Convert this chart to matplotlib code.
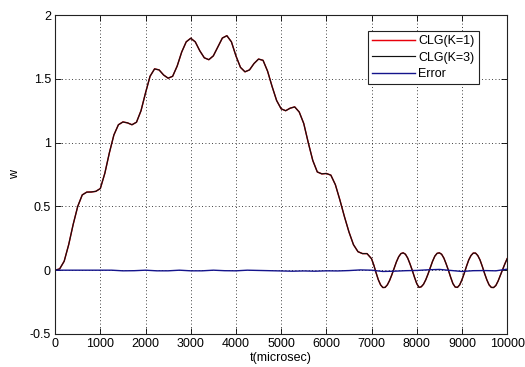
import numpy as np
import matplotlib.pyplot as plt

plt.rcParams["font.family"] = ["Liberation Sans", "DejaVu Sans"]

# sample times (microsec): coarse while stepping, finer over the ringing tail
t = np.concatenate([np.arange(0, 7000, 100), np.arange(7000, 10001, 50)])

# CLG response, K=3
w_k3 = [
    # 0 .. 6900, every 100
    0.0, 0.01, 0.07, 0.2, 0.36, 0.5, 0.59, 0.612, 0.613, 0.618,
    0.64, 0.76, 0.92, 1.06, 1.14, 1.162, 1.155, 1.14, 1.16, 1.25,
    1.39, 1.52, 1.578, 1.57, 1.53, 1.505, 1.52, 1.6, 1.71, 1.79,
    1.818, 1.79, 1.72, 1.665, 1.65, 1.68, 1.75, 1.82, 1.838, 1.79,
    1.68, 1.59, 1.555, 1.57, 1.62, 1.655, 1.645, 1.56, 1.44, 1.33,
    1.265, 1.25, 1.27, 1.28, 1.24, 1.15, 1.0, 0.86, 0.77, 0.755,
    0.758, 0.745, 0.67, 0.55, 0.42, 0.3, 0.2, 0.145, 0.13, 0.13,
    # 7000 .. 10000, every 50
    0.09, 0.04, -0.02, -0.075, -0.115, -0.136, -0.135, -0.115, -0.08, -0.035,
    0.015, 0.065, 0.105, 0.13, 0.136, 0.125, 0.095, 0.05, 0.0, -0.055,
    -0.105, -0.135, -0.13, -0.11, -0.075, -0.03, 0.02, 0.07, 0.11, 0.132,
    0.136, 0.125, 0.095, 0.05, 0.0, -0.055, -0.105, -0.132, -0.135, -0.115,
    -0.075, -0.025, 0.03, 0.08, 0.115, 0.134, 0.134, 0.115, 0.08, 0.03,
    -0.025, -0.075, -0.115, -0.135, -0.136, -0.12, -0.085, -0.04, 0.005, 0.05,
    0.09,
]
# CLG response, K=1 (overlaps K=3 almost everywhere)
w_k1 = list(w_k3)

# difference between the two responses
t_err = np.arange(0, 10001, 250)
err = [
    0.0, 0.0, 0.0, 0.0, 0.0, 0.0, -0.005, -0.004, 0.0, -0.005,
    -0.005, 0.0, -0.005, -0.005, 0.0, -0.004, -0.005, 0.0, -0.002, -0.004,
    -0.006, -0.008, -0.006, -0.008, -0.005, -0.006, -0.003, 0.002, 0.0, -0.01,
    -0.008, -0.004, -0.002, 0.003, 0.006, -0.002, -0.01, -0.004, -0.003, -0.005,
    0.008,
]

fig = plt.figure(figsize=(5.25, 3.67), dpi=100)
ax = fig.add_axes([0.105, 0.09, 0.861, 0.869])

ax.plot(t, w_k1, color="#e8000b", lw=1.05, label="CLG(K=1)")
ax.plot(t, w_k3, color="#111111", lw=0.85, label="CLG(K=3)")
ax.plot(t_err, err, color="#14148c", lw=1.0, label="Error")

ax.set_xlim(0, 10000)
ax.set_ylim(-0.5, 2)
ax.set_xticks(np.arange(0, 10001, 1000))
ax.set_yticks([-0.5, 0, 0.5, 1, 1.5, 2])
ax.set_yticklabels(["-0.5", "0", "0.5", "1", "1.5", "2"])
ax.tick_params(direction="in", top=True, right=True, length=4, width=0.6,
               labelsize=9, pad=3)
ax.grid(True, linestyle=(0, (1, 3)), color="black", linewidth=0.6)
for s in ax.spines.values():
    s.set_linewidth(0.8)
    s.set_color("#222222")

ax.set_xlabel("t(microsec)", fontsize=9, labelpad=1)
ax.set_ylabel("w", fontsize=9, labelpad=6)

leg = ax.legend(loc="upper right", bbox_to_anchor=(0.938, 0.95), borderaxespad=0,
                fontsize=9, handlelength=3.4, handletextpad=0.3, labelspacing=0.35,
                borderpad=0.35, fancybox=False, framealpha=1, edgecolor="#222222")
leg.get_frame().set_linewidth(0.8)

fig.savefig("out.png", dpi=100)
